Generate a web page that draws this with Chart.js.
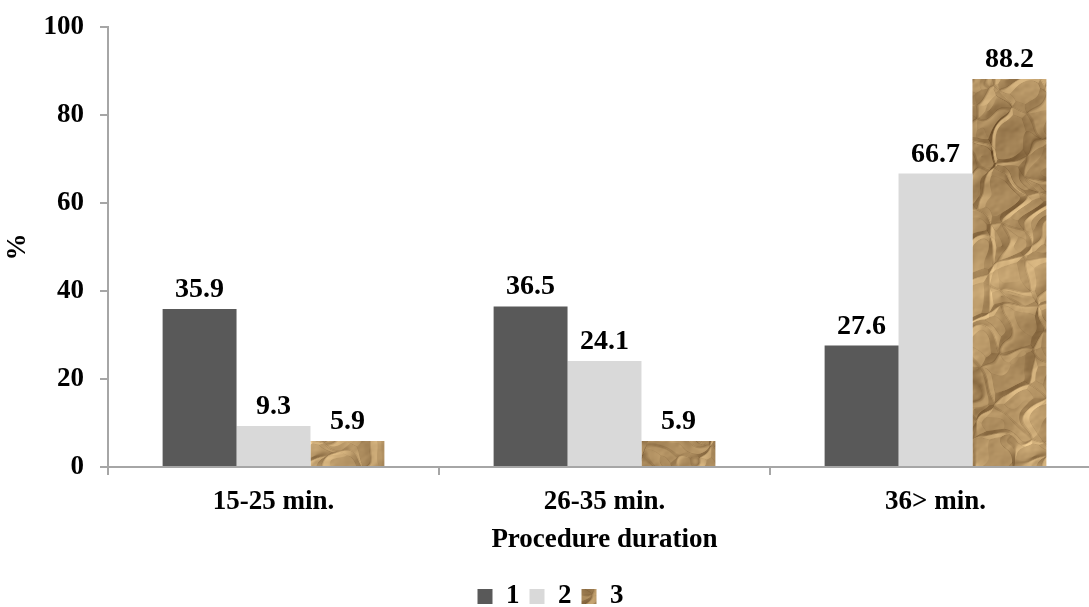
<!DOCTYPE html>
<html>
<head>
<meta charset="utf-8">
<script src="https://cdn.jsdelivr.net/npm/chart.js@4"></script>
<style>
  html, body { margin: 0; padding: 0; overflow: hidden; background: #fff; }
  #wrap { position: absolute; left: 0; top: 0; width: 1101px; height: 620px; }
</style>
</head>
<body>
<div id="wrap"><canvas id="c" width="1101" height="620"></canvas></div>
<script>
const categories = ['15-25 min.', '26-35 min.', '36> min.']
const seriesNames = ['1', '2', '3']
const series1 = [35.9, 36.5, 27.6]
const series2 = [9.3, 24.1, 66.7]
const series3 = [5.9, 5.9, 88.2]
const yTicks = [0, 20, 40, 60, 80, 100]

const FONT = "'Liberation Serif', 'Times New Roman', serif"

// crumpled brown paper texture: warped cell creases + soft folds, lit from top left
const makePaper = () => {
  const w = 240, h = 620
  const cv = document.createElement('canvas')
  cv.width = w
  cv.height = h
  const ctx = cv.getContext('2d')
  const img = ctx.createImageData(w, h)
  const hash = (x, y, s) => {
    let n = (x * 374761393 + y * 668265263 + s * 982451653) | 0
    n = Math.imul(n ^ (n >>> 13), 1274126177)
    n = n ^ (n >>> 16)
    return ((n >>> 0) % 10000) / 10000
  }
  const noise = (x, y) => {
    const xi = Math.floor(x), yi = Math.floor(y)
    const xf = x - xi, yf = y - yi
    const u = xf * xf * (3 - 2 * xf), v = yf * yf * (3 - 2 * yf)
    const a = hash(xi, yi, 0), b = hash(xi + 1, yi, 0)
    const c = hash(xi, yi + 1, 0), d = hash(xi + 1, yi + 1, 0)
    return a + (b - a) * u + (c - a) * v + (a - b - c + d) * u * v
  }
  const cell = 34
  const worley = (x, y) => {
    const wx = x + (noise(x / 22, y / 22) - 0.5) * 30 + y * 0.4
    const wy = y + (noise(x / 22 + 31, y / 22 + 17) - 0.5) * 30 - x * 0.25
    const cx = Math.floor(wx / cell), cy = Math.floor(wy / cell)
    let f1 = 1e9, f2 = 1e9
    for (let j = -1; j <= 1; j++) {
      for (let i = -1; i <= 1; i++) {
        const px = (cx + i + hash(cx + i, cy + j, 1)) * cell
        const py = (cy + j + hash(cx + i, cy + j, 2)) * cell
        const d = Math.hypot(wx - px, wy - py)
        if (d < f1) { f2 = f1; f1 = d } else if (d < f2) f2 = d
      }
    }
    return f2 - f1
  }
  const W = w + 2
  const Hm = new Float32Array(W * (h + 2))
  const Cr = new Float32Array(W * (h + 2))
  for (let y = 0; y <= h + 1; y++) {
    for (let x = 0; x <= w + 1; x++) {
      const e = worley(x, y)
      Cr[y * W + x] = e
      const fold = noise(x / 45, y / 38) * 9 + noise(x / 19 + 9, y / 15 + 4) * 4
      Hm[y * W + x] = fold + Math.min(1, e / 14) * 4 + noise(x / 5 + 3, y / 4 + 8) * 0.6
    }
  }
  for (let y = 0; y < h; y++) {
    for (let x = 0; x < w; x++) {
      const c0 = Hm[y * W + x]
      const dx = Hm[y * W + x + 1] - c0
      const dy = Hm[(y + 1) * W + x] - c0
      const cr = Math.min(1, Cr[y * W + x] / 2.5)
      const tone = noise(x / 80 + 50, y / 70 + 50)
      let t = 0.56 + (dx * 0.8 + dy * 0.6) * 0.28 - (1 - cr) * 0.18 + (tone - 0.5) * 0.25
      t = Math.max(0, Math.min(1, t))
      const i = (y * w + x) * 4
      img.data[i] = 85 + t * 160
      img.data[i + 1] = 56 + t * 154
      img.data[i + 2] = 24 + t * 128
      img.data[i + 3] = 255
    }
  }
  ctx.putImageData(img, 0, 0)
  return ctx.createPattern(cv, 'repeat')
}
const paper = makePaper()

const valueLabels = {
  id: 'valueLabels',
  afterDatasetsDraw(chart) {
    const ctx = chart.ctx
    ctx.save()
    ctx.font = 'bold 28px ' + FONT
    ctx.fillStyle = '#000'
    ctx.textAlign = 'center'
    ctx.textBaseline = 'alphabetic'
    chart.data.datasets.forEach((ds, di) => {
      chart.getDatasetMeta(di).data.forEach((bar, i) => {
        ctx.fillText(ds.data[i].toFixed(1), bar.x, bar.y - 12)
      })
    })
    ctx.restore()
  },
}

const axisColor = '#a6a6a6'
const bold27 = { family: FONT, size: 27, weight: 'bold' }

new Chart(document.getElementById('c'), {
  type: 'bar',
  data: {
    labels: categories,
    datasets: [
      { label: seriesNames[0], data: series1, backgroundColor: '#595959' },
      { label: seriesNames[1], data: series2, backgroundColor: '#d9d9d9' },
      { label: seriesNames[2], data: series3, backgroundColor: paper },
    ],
  },
  options: {
    responsive: false,
    animation: false,
    layout: { padding: { top: 27, left: 0, right: 0, bottom: 0 } },
    datasets: { bar: { categoryPercentage: 0.67, barPercentage: 1.0 } },
    scales: {
      x: {
        grid: { drawOnChartArea: false, tickLength: 8, color: axisColor, lineWidth: 2, offset: true },
        border: { color: axisColor, width: 2 },
        ticks: { color: '#000', font: bold27, padding: 11 },
        title: { display: true, text: 'Procedure duration', color: '#000', font: bold27, padding: { top: 0, bottom: 17 } },
        afterFit: (s) => { s.height = 106; s.paddingLeft = 0; s.paddingRight = 0 },
      },
      y: {
        min: 0,
        max: 100,
        afterBuildTicks: (s) => { s.ticks = yTicks.map((v) => ({ value: v })) },
        grid: { drawOnChartArea: false, tickLength: 8, color: axisColor, lineWidth: 2 },
        border: { color: axisColor, width: 2 },
        ticks: { color: '#000', font: bold27, padding: 16 },
        title: { display: true, text: '%', color: '#000', font: bold27, padding: { top: 2, bottom: 0 } },
        afterFit: (s) => { s.width = 108; s.paddingTop = 0; s.paddingBottom = 0 },
      },
    },
    plugins: {
      legend: {
        position: 'bottom',
        labels: {
          color: '#000',
          font: bold27,
          boxWidth: 15,
          boxHeight: 15,
          padding: 10,
        },
      },
      tooltip: { enabled: false },
    },
  },
  plugins: [valueLabels],
})
</script>
</body>
</html>
